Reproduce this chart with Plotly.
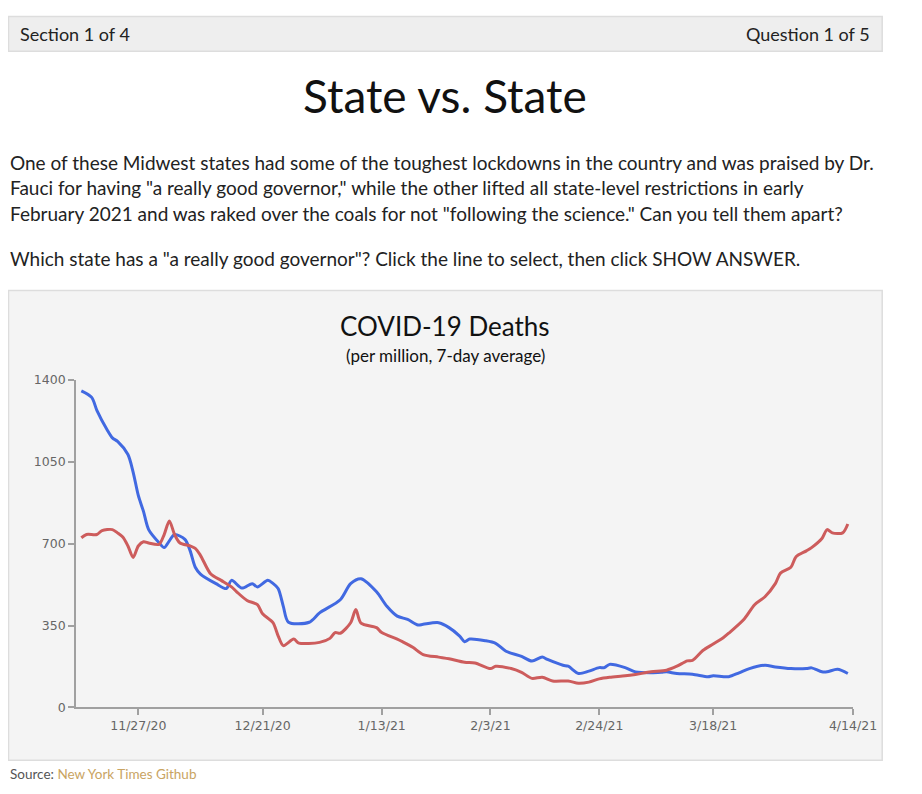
import plotly.graph_objects as go

# Data (deaths per million, 7-day average)
blue_dates = ['2020-11-16', '2020-11-18', '2020-11-19', '2020-11-21', '2020-11-22', '2020-11-23',
              '2020-11-25', '2020-11-26', '2020-11-27', '2020-11-28', '2020-11-29', '2020-12-01',
              '2020-12-02', '2020-12-03', '2020-12-04', '2020-12-06', '2020-12-07', '2020-12-08',
              '2020-12-09', '2020-12-12', '2020-12-14', '2020-12-15', '2020-12-17', '2020-12-19',
              '2020-12-20', '2020-12-22', '2020-12-23', '2020-12-24', '2020-12-25', '2020-12-26',
              '2020-12-30', '2021-01-01', '2021-01-05', '2021-01-07', '2021-01-09', '2021-01-12',
              '2021-01-14', '2021-01-16', '2021-01-18', '2021-01-20', '2021-01-21', '2021-01-24',
              '2021-01-26', '2021-01-28', '2021-01-29', '2021-01-30', '2021-02-02', '2021-02-04',
              '2021-02-06', '2021-02-09', '2021-02-11', '2021-02-13', '2021-02-14', '2021-02-17',
              '2021-02-18', '2021-02-20', '2021-02-22', '2021-02-24', '2021-02-25', '2021-02-26',
              '2021-03-01', '2021-03-03', '2021-03-06', '2021-03-08', '2021-03-09', '2021-03-11',
              '2021-03-14', '2021-03-17', '2021-03-18', '2021-03-21', '2021-03-23', '2021-03-25',
              '2021-03-28', '2021-03-30', '2021-04-02', '2021-04-05', '2021-04-06', '2021-04-08',
              '2021-04-09', '2021-04-11', '2021-04-13']
blue_values = [1353, 1325, 1270, 1186, 1152, 1137,
               1081, 1006, 906, 838, 760, 704,
               683, 712, 739, 718, 670, 599,
               570, 529, 508, 543, 510, 529,
               515, 543, 530, 508, 432, 364,
               364, 404, 460, 529, 550, 494,
               432, 390, 376, 352, 355, 362,
               341, 306, 281, 292, 285, 274,
               240, 218, 198, 215, 205, 180,
               176, 145, 155, 170, 170, 184,
               170, 152, 148, 150, 152, 145,
               142, 131, 135, 131, 148, 166,
               180, 173, 166, 166, 169, 152,
               152, 163, 145]

red_dates = ['2020-11-16', '2020-11-17', '2020-11-19', '2020-11-20', '2020-11-22', '2020-11-23',
             '2020-11-24', '2020-11-25', '2020-11-26', '2020-11-27', '2020-11-28', '2020-11-29',
             '2020-12-01', '2020-12-02', '2020-12-03', '2020-12-04', '2020-12-05', '2020-12-07',
             '2020-12-08', '2020-12-09', '2020-12-11', '2020-12-13', '2020-12-15', '2020-12-16',
             '2020-12-18', '2020-12-20', '2020-12-21', '2020-12-23', '2020-12-24', '2020-12-25',
             '2020-12-27', '2020-12-28', '2021-01-01', '2021-01-03', '2021-01-04', '2021-01-05',
             '2021-01-07', '2021-01-08', '2021-01-09', '2021-01-12', '2021-01-13', '2021-01-16',
             '2021-01-17', '2021-01-19', '2021-01-21', '2021-01-24', '2021-01-26', '2021-01-29',
             '2021-01-31', '2021-02-03', '2021-02-04', '2021-02-07', '2021-02-09', '2021-02-11',
             '2021-02-13', '2021-02-15', '2021-02-18', '2021-02-20', '2021-02-22', '2021-02-24',
             '2021-02-26', '2021-03-01', '2021-03-03', '2021-03-06', '2021-03-09', '2021-03-11',
             '2021-03-13', '2021-03-14', '2021-03-16', '2021-03-18', '2021-03-20', '2021-03-21',
             '2021-03-24', '2021-03-26', '2021-03-28', '2021-03-30', '2021-03-31', '2021-04-02',
             '2021-04-03', '2021-04-05', '2021-04-06', '2021-04-08', '2021-04-09', '2021-04-10',
             '2021-04-12', '2021-04-13']
red_values = [725, 739, 739, 756, 760, 746,
              728, 690, 641, 690, 708, 703,
              697, 739, 797, 739, 704, 690,
              680, 650, 570, 543, 515, 494,
              457, 439, 400, 362, 306, 264,
              292, 275, 278, 295, 320, 317,
              362, 418, 360, 341, 320, 292,
              281, 257, 226, 215, 208, 193,
              190, 166, 176, 166, 150, 124,
              129, 113, 113, 103, 108, 122,
              129, 135, 141, 152, 159, 176,
              199, 201, 243, 271, 299, 317,
              378, 439, 473, 529, 574, 599,
              644, 669, 683, 722, 760, 746,
              746, 784]

tick_dates = ['2020-11-27', '2020-12-21', '2021-01-13', '2021-02-03', '2021-02-24', '2021-03-18', '2021-04-14']
tick_labels = ['11/27/20', '12/21/20', '1/13/21', '2/3/21', '2/24/21', '3/18/21', '4/14/21']
y_ticks = [0, 350, 700, 1050, 1400]

# page is 922x794 with the default 8px body margin around the figure
OFF = 8
W, H = 922 - 2 * OFF, 794 - 2 * OFF
FONT = 'Lato'


def px(x):
    return (x - OFF) / W


def py(y):
    return 1 - (y - OFF) / H


def text(s, x, y, size, color='#222', anchor='left', family=FONT):
    return dict(text=s, x=px(x), y=py(y), xref='paper', yref='paper', showarrow=False,
                xanchor=anchor, yanchor='middle', font=dict(family=family, size=size, color=color))


fig = go.Figure()

fig.add_trace(go.Scatter(x=blue_dates, y=blue_values, mode='lines', line_shape='spline',
                         line=dict(color='#4169e1', width=3, smoothing=0.8),
                         hoverinfo='skip', showlegend=False))
fig.add_trace(go.Scatter(x=red_dates, y=red_values, mode='lines', line_shape='spline',
                         line=dict(color='#cd5c5c', width=3, smoothing=0.8),
                         hoverinfo='skip', showlegend=False))

shapes = [
    # header bar
    dict(type='rect', xref='paper', yref='paper', x0=px(8.5), x1=px(906), y0=py(44), y1=py(8.5),
         fillcolor='#eeeeee', line=dict(color='#dddddd', width=1.5), layer='below'),
    # chart box
    dict(type='rect', xref='paper', yref='paper', x0=px(8.5), x1=px(906), y0=py(767), y1=py(288),
         fillcolor='#f4f4f4', line=dict(color='#dddddd', width=1.5), layer='below'),
]

annotations = [
    text('Section 1 of 4', 18, 26, 18),
    text('Question 1 of 5', 896, 26, 18, anchor='right'),
    text('State vs. State', 457, 89, 46, color='#111', anchor='center'),
    text('One of these Midwest states had some of the toughest lockdowns in the country and was praised by Dr.', 8, 157, 19),
    text('Fauci for having "a really good governor," while the other lifted all state-level restrictions in early', 8, 183, 19),
    text('February 2021 and was raked over the coals for not "following the science." Can you tell them apart?', 8, 209, 19),
    text('Which state has a "a really good governor"? Click the line to select, then click SHOW ANSWER.', 8, 255, 19),
    text('COVID-19 Deaths', 457, 324, 26, color='#111', anchor='center'),
    text('(per million, 7-day average)', 457, 354, 17, color='#111', anchor='center'),
    text('Source: <span style="color:#c9a462">New York Times Github</span>', 8, 781, 13.5, color='#555'),
]

axis_common = dict(showline=True, linecolor='#a0a0a0', linewidth=2, ticks='outside', ticklen=6,
                   tickcolor='#a0a0a0', tickwidth=1.5, showgrid=False, zeroline=False,
                   tickfont=dict(family='DejaVu Sans', size=12.5, color='#666'), fixedrange=True)

fig.update_layout(
    width=W, height=H,
    margin=dict(l=0, r=0, t=0, b=0),
    paper_bgcolor='white',
    plot_bgcolor='#f4f4f4',
    shapes=shapes,
    annotations=annotations,
    xaxis=dict(domain=[px(78), px(876)], range=['2020-11-15', '2021-04-14'], type='date',
               tickvals=tick_dates, ticktext=tick_labels, **axis_common),
    yaxis=dict(domain=[py(713), py(379)], range=[0, 1400], tickvals=y_ticks,
               ticktext=[str(v) for v in y_ticks], **axis_common),
)

fig.write_html('out.html', config={'displayModeBar': False})
